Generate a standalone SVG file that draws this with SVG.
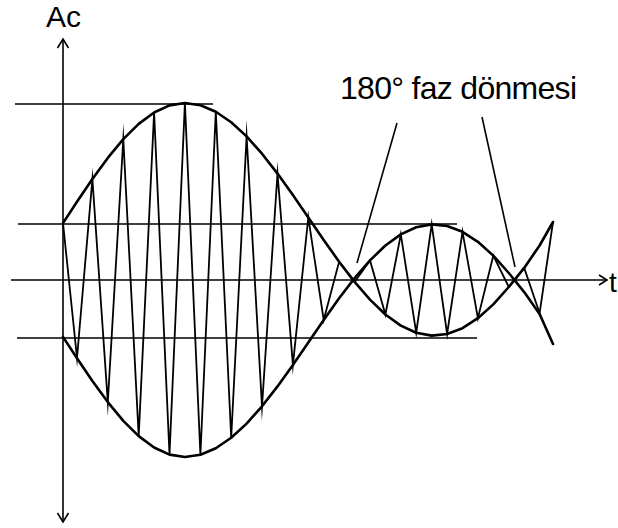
<svg xmlns="http://www.w3.org/2000/svg" width="618" height="528" viewBox="0 0 618 528">
<style>
.ax{stroke:#000;stroke-width:1.6;fill:none}
.gl{stroke:#000;stroke-width:1.6;fill:none}
.env{stroke:#000;stroke-width:2.6;fill:none;stroke-linejoin:round;stroke-linecap:round}
.car{stroke:#000;stroke-width:1.8;fill:none;stroke-linejoin:miter;stroke-miterlimit:20}
.ld{stroke:#000;stroke-width:1.6;fill:none}
.tx{font-family:"Liberation Sans",Arial,sans-serif;fill:#000}
</style>
<rect width="618" height="528" fill="#fff"/>
<g id="guides">
<line class="gl" x1="15" y1="104" x2="213" y2="104"/>
<line class="gl" x1="18" y1="224" x2="457" y2="224"/>
<line class="gl" x1="17" y1="338" x2="477" y2="338"/>
</g>
<g id="axes">
<line class="ax" x1="63" y1="39" x2="63" y2="522"/>
<polyline class="ax" points="57.5,48 63,39 68.5,48"/>
<polyline class="ax" points="57.5,513 63,522 68.5,513"/>
<line class="ax" x1="11" y1="280" x2="607" y2="280"/>
<polyline class="ax" points="599,275 607,280 599,285"/>
</g>
<g id="envelope">
<polyline class="env" points="63,223.1 77,201.8 92.4,179.1 107.8,157.9 123.3,139.2 138.7,123.9 154.1,112.5 169.5,105.4 184.9,103 200.4,105.2 215.8,111.7 231.2,122.2 246.6,136.4 262,153.7 277.5,173.6 292.9,195.1 308.3,217.5 323.7,240 339.1,261.7 354.6,281.9 370,299.6 385.4,314.5 400.8,325.6 416.2,332.7 431.7,335.6 447.1,334 462.5,328.2 477.9,318.2 493.3,304.4 508.8,287 524.2,267.9 539.6,245.5 553,222"/>
<polyline class="env" points="63,336.9 77,358.2 92.4,380.9 107.8,402.1 123.3,420.8 138.7,436.1 154.1,447.5 169.5,454.6 184.9,457 200.4,454.8 215.8,448.3 231.2,437.8 246.6,423.6 262,406.3 277.5,386.4 292.9,364.9 308.3,342.5 323.7,320 339.1,298.3 354.6,278.1 370,260.4 385.4,245.5 400.8,234.4 416.2,227.3 431.7,224.4 447.1,226 462.5,231.8 477.9,241.8 493.3,255.6 508.8,273 524.2,292.1 539.6,314 553,344"/>
</g>
<g id="carrier">
<polyline class="car" points="63,223 77,358 92.4,179.1 107.8,402.1 123.3,139.2 138.7,436.1 154.1,112.5 169.5,454.6 184.9,103 200.4,454.8 215.8,111.7 231.2,437.8 246.6,136.4 262,406.3 277.5,173.6 292.9,364.9 308.3,217.5 323.7,320 339.1,261.7 354.6,281.9 370,260.4 385.4,314.5 400.8,234.4 416.2,332.7 431.7,224.4 447.1,334 462.5,231.8 477.9,318.2 493.3,255.6 508.8,287 524.2,267.9 539.6,313.2 553,222"/>
</g>
<g id="connectors">
<line class="ld" x1="397" y1="123" x2="357" y2="263"/>
<line class="ld" x1="482" y1="117" x2="515" y2="267"/>
</g>
<g id="labels">
<text class="tx" x="46" y="27" font-size="30">Ac</text>
<text class="tx" x="340" y="99" font-size="32" textLength="237">180° faz dönmesi</text>
<text class="tx" x="609" y="292" font-size="28">t</text>
</g>
</svg>
